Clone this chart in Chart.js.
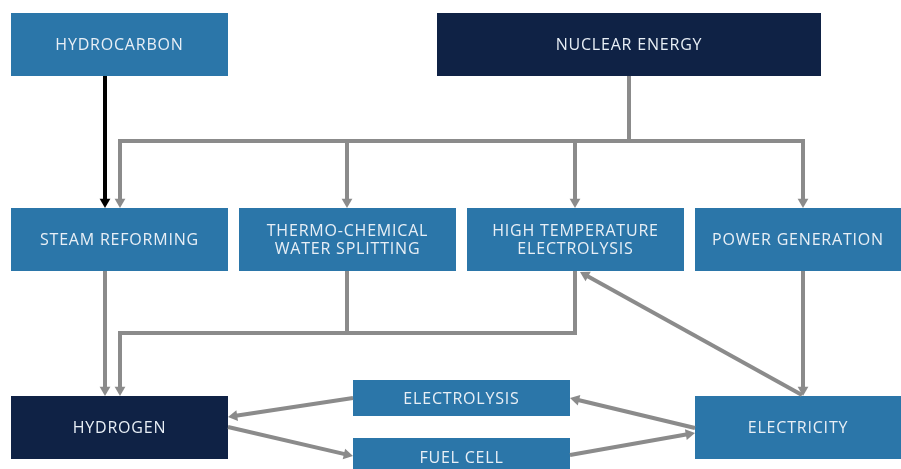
<!DOCTYPE html>
<html><head><meta charset="utf-8">
<script src="https://cdn.jsdelivr.net/npm/chart.js@4"></script>
<style>html,body{margin:0;padding:0;background:#fff;}#wrap{width:901px;height:469px;position:relative;}</style>
</head><body><div id="wrap"><canvas id="c"></canvas></div>
<script>
// ---- Diagram data (coordinates in diagram units, mapped by the chart scales) ----
const nodeLabels = [["HYDROCARBON"],["NUCLEAR ENERGY"],["STEAM REFORMING"],["THERMO-CHEMICAL","WATER SPLITTING"],["HIGH TEMPERATURE","ELECTROLYSIS"],["POWER GENERATION"],["HYDROGEN"],["ELECTROLYSIS"],["FUEL CELL"],["ELECTRICITY"]];
const nodeLeft   = [11, 437, 11, 239, 467, 695, 11, 353, 353, 695];
const nodeRight  = [228, 821, 228, 456, 684, 902, 228, 570, 570, 902];
const nodeTop    = [13, 13, 208, 208, 208, 208, 396, 380, 438, 396];
const nodeBottom = [76, 76, 271, 271, 271, 271, 459, 416, 476, 459];
const nodeDark   = [false, true, false, false, false, false, true, false, false, false];

// connectors: x list, y list, arrow at end?, black?
const linkX = [[105,105],[629,629],[120,120,803,803],[347,347],[575,575],[105,105],[347,347],[575,575,120,120],[803,803],[802,580],[353,228],[228,353],[695,570],[570,695]];
const linkY = [[76,208],[76,141],[208,141,141,208],[141,208],[141,208],[271,396],[271,333],[271,333,333,396],[271,396],[395,272],[398,417],[427,456],[428,398],[455,433]];
const linkArrow = [true,false,true,true,true,true,false,true,true,true,true,true,true,true];
const linkArrowStart = [false,false,true,false,false,false,false,false,false,false,false,false,false,false];
const linkBlack = [true,false,false,false,false,false,false,false,false,false,false,false,false,false];

const MID = '#2B76A9', DARK = '#0F2245', GREY = '#8B8B8B', BLACK = '#000000', TXT = '#E8EFF6';
const AR = 6.2;

const datasets = [];
const arrowPts = [], arrowRot = [], arrowCol = [];
function addArrow(tx, ty, fx, fy, col){
  const dx = tx - fx, dy = ty - fy, L = Math.hypot(dx, dy);
  const ux = dx / L, uy = dy / L;
  arrowPts.push({x: tx - ux * AR, y: ty - uy * AR});
  arrowRot.push(Math.atan2(ux, -uy) * 180 / Math.PI);
  arrowCol.push(col);
  return {x: tx - ux * AR, y: ty - uy * AR};
}
linkX.forEach((xs, i) => {
  const col = linkBlack[i] ? BLACK : GREY;
  const pts = xs.map((x, j) => ({x, y: linkY[i][j]}));
  const n = pts.length;
  if (linkArrow[i]) {
    const c = addArrow(pts[n-1].x, pts[n-1].y, pts[n-2].x, pts[n-2].y, col);
    pts[n-1] = c;
  }
  if (linkArrowStart[i]) {
    const c = addArrow(pts[0].x, pts[0].y, pts[1].x, pts[1].y, col);
    pts[0] = c;
  }
  datasets.push({data: pts, showLine: true, borderColor: col, borderWidth: 4, pointRadius: 0,
    borderJoinStyle: 'miter', borderCapStyle: 'butt', tension: 0});
});
datasets.push({data: arrowPts, showLine: false, pointStyle: 'triangle', pointRadius: AR,
  pointRotation: arrowRot, pointBackgroundColor: arrowCol, pointBorderWidth: 0, pointHoverRadius: AR});

const boxPlugin = {
  id: 'boxes',
  beforeDatasetsDraw(chart) {
    const {ctx, scales: {x, y}} = chart;
    ctx.save();
    nodeLabels.forEach((lab, i) => {
      const x0 = x.getPixelForValue(nodeLeft[i]), x1 = x.getPixelForValue(nodeRight[i]);
      const y0 = y.getPixelForValue(nodeTop[i]), y1 = y.getPixelForValue(nodeBottom[i]);
      ctx.fillStyle = nodeDark[i] ? DARK : MID;
      ctx.fillRect(x0, y0, x1 - x0, y1 - y0);
    });
    ctx.restore();
  },
  afterDatasetsDraw(chart) {
    const {ctx, scales: {x, y}} = chart;
    ctx.save();
    ctx.fillStyle = TXT;
    ctx.font = '16px "Open Sans"';
    try { ctx.letterSpacing = '0.8px'; } catch(e) {}
    ctx.textAlign = 'center';
    ctx.textBaseline = 'middle';
    nodeLabels.forEach((lab, i) => {
      const cx = (x.getPixelForValue(nodeLeft[i]) + x.getPixelForValue(Math.min(nodeRight[i], 901))) / 2;
      const cy = (y.getPixelForValue(nodeTop[i]) + y.getPixelForValue(nodeBottom[i])) / 2;
      const lh = 18;
      lab.forEach((t, k) => {
        ctx.fillText(t, cx, cy + (k - (lab.length - 1) / 2) * lh + 1);
      });
    });
    ctx.restore();
  }
};

new Chart(document.getElementById('c'), {
  type: 'scatter',
  data: {datasets},
  options: {
    responsive: true, maintainAspectRatio: false, animation: false, events: [],
    layout: {padding: 0, autoPadding: false},
    plugins: {legend: {display: false}, tooltip: {enabled: false}},
    scales: {
      x: {type: 'linear', min: 0, max: 901, display: false},
      y: {type: 'linear', min: 0, max: 469, reverse: true, display: false}
    }
  },
  plugins: [boxPlugin]
});
</script>
</body></html>
